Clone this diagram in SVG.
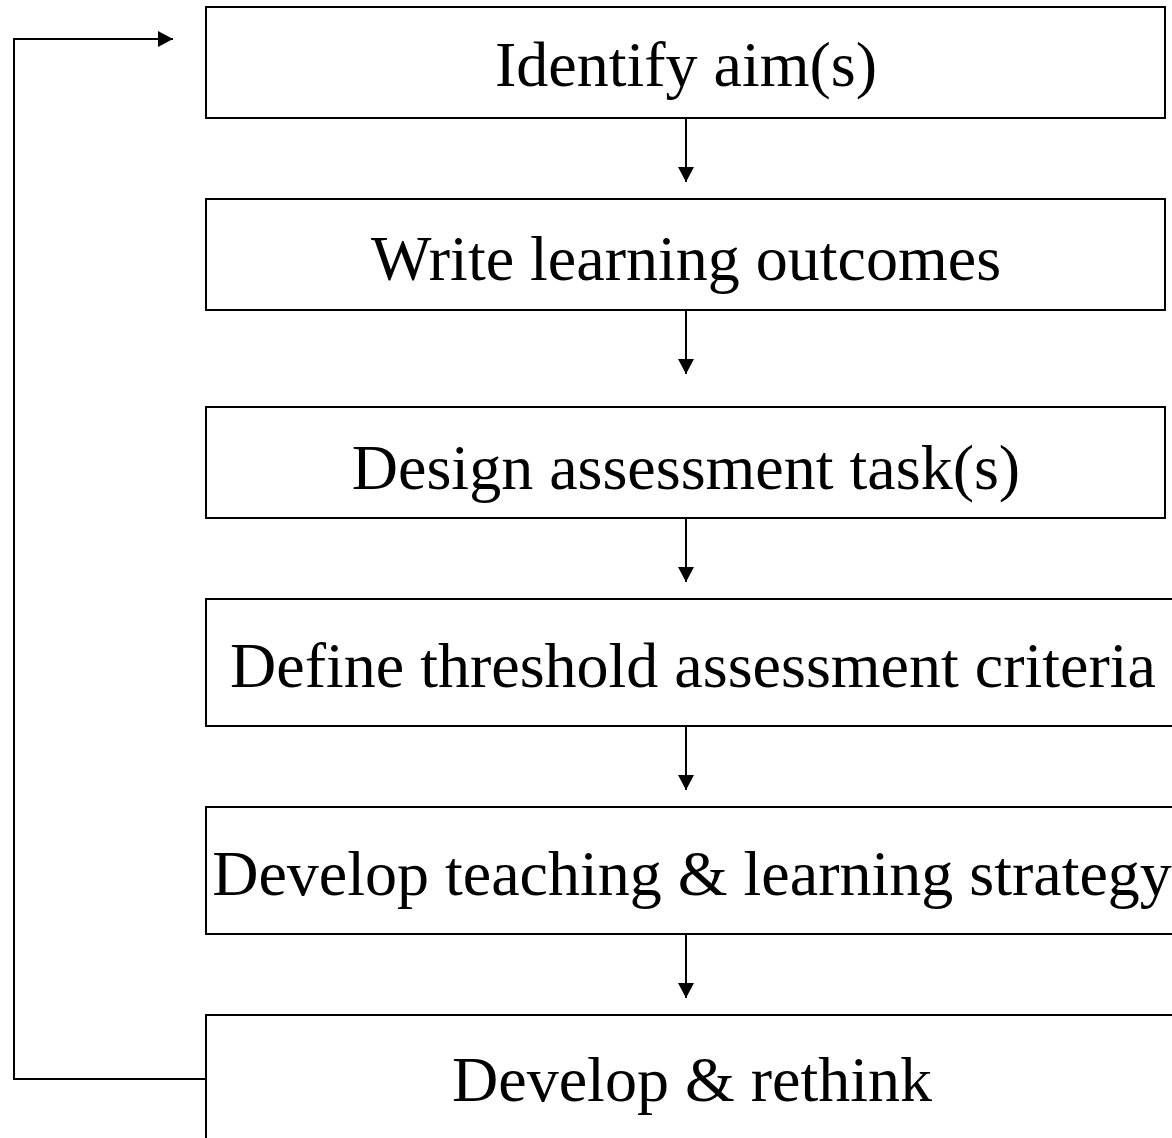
<svg xmlns="http://www.w3.org/2000/svg" width="1172" height="1138" viewBox="0 0 1172 1138">
  <defs>
    <style>
      .box { fill: #ffffff; stroke: #000000; stroke-width: 2; }
      .label { font-family: "Liberation Serif", "Times New Roman", serif; font-size: 64px; fill: #000000; text-anchor: middle; }
      .conn { fill: none; stroke: #000000; stroke-width: 2; }
    </style>
    <marker id="arrow" markerUnits="userSpaceOnUse" markerWidth="16" markerHeight="16" refX="15" refY="8" orient="auto">
      <path d="M0,0 L15,8 L0,16 Z" fill="#000000"/>
    </marker>
  </defs>

  <rect width="1172" height="1138" fill="#ffffff"/>

  <!-- connectors -->
  <g id="connectors">
    <path class="conn" d="M686,118 V182" marker-end="url(#arrow)"/>
    <path class="conn" d="M686,310 V374" marker-end="url(#arrow)"/>
    <path class="conn" d="M686,518 V582" marker-end="url(#arrow)"/>
    <path class="conn" d="M686,726 V790" marker-end="url(#arrow)"/>
    <path class="conn" d="M686,934 V998" marker-end="url(#arrow)"/>
    <!-- feedback loop back to the first step -->
    <path class="conn" d="M206,1079 H14 V39 H173" marker-end="url(#arrow)"/>
  </g>

  <g id="identify-aims">
    <rect class="box" x="206" y="7" width="959" height="111"/>
    <text class="label" x="686" y="86">Identify aim(s)</text>
  </g>

  <g id="write-outcomes">
    <rect class="box" x="206" y="199" width="959" height="111"/>
    <text class="label" x="686" y="280">Write learning outcomes</text>
  </g>

  <g id="design-assessment">
    <rect class="box" x="206" y="407" width="959" height="111"/>
    <text class="label" x="686" y="489">Design assessment task(s)</text>
  </g>

  <g id="define-criteria">
    <rect class="box" x="206" y="599" width="976" height="127"/>
    <text class="label" x="693" y="687">Define threshold assessment criteria</text>
  </g>

  <g id="develop-strategy">
    <rect class="box" x="206" y="807" width="976" height="127"/>
    <text class="label" x="692" y="895">Develop teaching &amp; learning strategy</text>
  </g>

  <g id="develop-rethink">
    <rect class="box" x="206" y="1015" width="976" height="140"/>
    <text class="label" x="692" y="1101">Develop &amp; rethink</text>
  </g>
</svg>
